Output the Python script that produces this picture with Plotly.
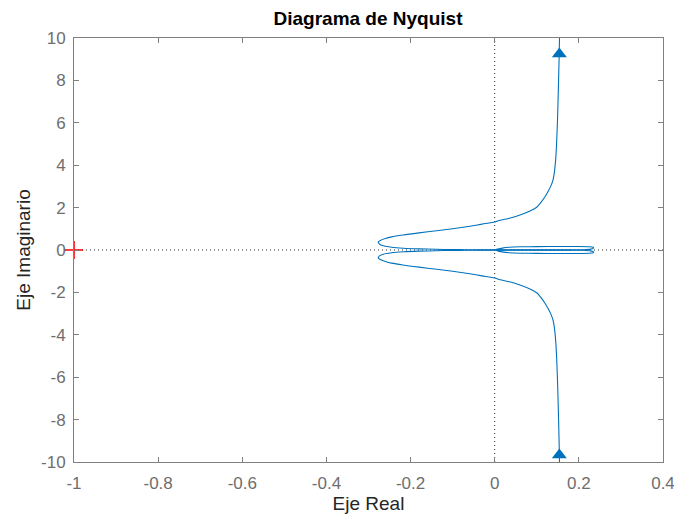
import plotly.graph_objects as go

# Upper branch, top -> origin
x_upper = [0.1540, 0.1530, 0.1518, 0.1505, 0.1490, 0.1470, 0.1450, 0.1420, 0.1385, 0.1330,
           0.1265, 0.1190, 0.1100, 0.1005, 0.0850, 0.0600, 0.0350, 0.0126, 0.0000, -0.0300,
           -0.0590, -0.1000, -0.1380, -0.1800, -0.2180, -0.2450, -0.2600, -0.2720, -0.2770,
           -0.2740, -0.2650, -0.2450, -0.2170, -0.1800, -0.1400, -0.1000, -0.0700, -0.0300,
           0.0000, 0.0600, 0.1200, 0.1800, 0.2100, 0.2280, 0.2350, 0.2340, 0.2250, 0.2000,
           0.1500, 0.1000, 0.0600, 0.0350, 0.0180, 0.0070, 0.0000]
y_upper = [10.0, 9.0, 8.0, 7.0, 6.0, 5.0, 4.3, 3.70, 3.30, 3.00,
           2.75, 2.50, 2.25, 2.03, 1.85, 1.65, 1.50, 1.40, 1.32, 1.22,
           1.12, 1.00, 0.91, 0.81, 0.71, 0.62, 0.54, 0.45, 0.37,
           0.28, 0.20, 0.13, 0.085, 0.055, 0.035, 0.020, 0.012, 0.006,
           0.004, 0.004, 0.005, 0.008, 0.015, 0.040, 0.090, 0.130, 0.155, 0.165,
           0.165, 0.160, 0.150, 0.130, 0.090, 0.040, 0.000]

# Lower branch, bottom -> origin
x_lower = [0.1540, 0.1530, 0.1518, 0.1505, 0.1490, 0.1470, 0.1450, 0.1420, 0.1385, 0.1330,
           0.1265, 0.1190, 0.1100, 0.1005, 0.0850, 0.0600, 0.0350, 0.0126, 0.0000, -0.0300,
           -0.0590, -0.1000, -0.1380, -0.1800, -0.2180, -0.2450, -0.2600, -0.2720, -0.2770,
           -0.2740, -0.2650, -0.2450, -0.2170, -0.1800, -0.1400, -0.1000, -0.0700, -0.0300,
           0.0000, 0.0600, 0.1200, 0.1800, 0.2100, 0.2280, 0.2350, 0.2340, 0.2250, 0.2000,
           0.1500, 0.1000, 0.0600, 0.0350, 0.0180, 0.0070, 0.0000]
y_lower = [-10.0, -9.0, -8.0, -7.0, -6.0, -5.0, -4.3, -3.70, -3.30, -3.00,
           -2.75, -2.50, -2.25, -2.03, -1.85, -1.65, -1.50, -1.40, -1.32, -1.22,
           -1.12, -1.00, -0.91, -0.81, -0.71, -0.62, -0.54, -0.45, -0.37,
           -0.28, -0.20, -0.13, -0.085, -0.055, -0.035, -0.020, -0.012, -0.006,
           -0.004, -0.004, -0.005, -0.008, -0.015, -0.040, -0.090, -0.130, -0.155, -0.165,
           -0.165, -0.160, -0.150, -0.130, -0.090, -0.040, 0.000]

# Direction arrows
arrow_x = [0.1536, 0.1536]
arrow_y = [9.24, -9.67]

# Critical point
crit_x = [-1]
crit_y = [0]

x_ticks = [-1, -0.8, -0.6, -0.4, -0.2, 0, 0.2, 0.4]
x_ticktext = ["-1", "-0.8", "-0.6", "-0.4", "-0.2", "0", "0.2", "0.4"]
y_ticks = [-10, -8, -6, -4, -2, 0, 2, 4, 6, 8, 10]
y_ticktext = ["-10", "-8", "-6", "-4", "-2", "0", "2", "4", "6", "8", "10"]

BLUE = "#0072BD"
FONT = "Liberation Sans, Arial, Helvetica, sans-serif"

fig = go.Figure()

# dotted reference lines
fig.add_trace(go.Scatter(x=[-1, 0.4], y=[0, 0], mode="lines",
                         line=dict(color="#303030", width=1, dash="1px,3px"),
                         hoverinfo="skip", showlegend=False))
fig.add_trace(go.Scatter(x=[0, 0], y=[-10, 10], mode="lines",
                         line=dict(color="#303030", width=1, dash="1px,3px"),
                         hoverinfo="skip", showlegend=False))

fig.add_trace(go.Scatter(x=x_upper, y=y_upper, mode="lines",
                         line=dict(color=BLUE, width=1.1, shape="spline", smoothing=0.6),
                         showlegend=False))
fig.add_trace(go.Scatter(x=x_lower, y=y_lower, mode="lines",
                         line=dict(color=BLUE, width=1.1, shape="spline", smoothing=0.6),
                         showlegend=False))
fig.add_trace(go.Scatter(x=arrow_x, y=arrow_y, mode="markers",
                         marker=dict(symbol="triangle-up", size=13, color=BLUE,
                                     line=dict(width=0)), showlegend=False))
fig.add_trace(go.Scatter(x=crit_x, y=crit_y, mode="markers",
                         marker=dict(symbol="cross-thin", size=13,
                                     line=dict(color="#FF0000", width=1.6)),
                         cliponaxis=False, showlegend=False))

axis_common = dict(showgrid=False, zeroline=False, showline=True, linecolor="#808080",
                   linewidth=1, mirror="ticks", ticks="inside", ticklen=5,
                   tickcolor="#808080", automargin=False, ticklabeloverflow="allow",
                   tickfont=dict(family=FONT, size=17, color="#6e6e6e"))

fig.update_layout(
    width=674, height=518,
    margin=dict(l=74, r=11, t=38, b=56),
    paper_bgcolor="white", plot_bgcolor="white",
    title=dict(text="<b>Diagrama de Nyquist</b>", x=368 / 674, xanchor="center",
               y=1 - 18 / 518, yanchor="middle",
               font=dict(family=FONT, size=19, color="#000000")),
    xaxis=dict(range=[-1, 0.4], tickvals=x_ticks, ticktext=x_ticktext,
               title=dict(text="Eje Real", font=dict(family=FONT, size=19, color="#262626"),
                          standoff=3),
               ticklabelstandoff=6, **axis_common),
    yaxis=dict(range=[-10, 10], tickvals=y_ticks, ticktext=y_ticktext,
               title=dict(text="Eje Imaginario", font=dict(family=FONT, size=19, color="#262626"),
                          standoff=5),
               ticklabelstandoff=4, **axis_common),
)

fig.write_html("out.html")
